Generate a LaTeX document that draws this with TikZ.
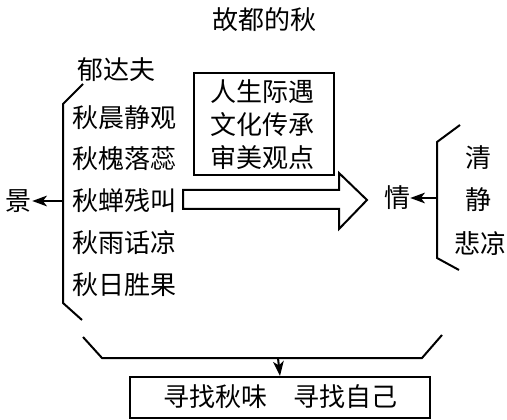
\documentclass[tikz,border=0pt]{standalone}
\usepackage{fontspec}
\setmainfont{Noto Sans CJK SC}
\usetikzlibrary{arrows.meta}
\begin{document}
\begin{tikzpicture}[x=0.75pt,y=-0.75pt,
  txt/.style={inner sep=0pt,font=\fontsize{19.5pt}{23pt}\selectfont},
  ln/.style={line width=1.5pt},
  arr/.style={line width=1.5pt,-{Stealth[length=11pt,width=8pt,inset=3pt]}},
  boxed/.style={draw,line width=1.5pt,inner sep=0pt}]
\useasboundingbox (0,0) rectangle (507,420);
\fill[white] (0,0) rectangle (507,420);
% title
\node[txt] (title) at (264,20) {故都的秋};
\node[txt] (author) at (116,70) {郁达夫};
% left column
\node[txt] (l1) at (124,118) {秋晨静观};
\node[txt] (l2) at (124,159) {秋槐落蕊};
\node[txt] (l3) at (124,201) {秋蝉残叫};
\node[txt] (l4) at (124,243) {秋雨话凉};
\node[txt] (l5) at (124,285) {秋日胜果};
% left bracket
\coordinate (lt) at (83,84);
\coordinate (ltv) at (63,104);
\coordinate (lbv) at (63,303);
\coordinate (lb) at (82,320);
\coordinate (lm) at (63,201);
\draw[ln] (lt) -- (ltv) -- (lbv) -- (lb);
\node[txt] (jing) at (19,201) {景};
\draw[arr] (lm) -- (jing.east);
% middle box
\node[boxed,minimum width=140*0.75pt,minimum height=102*0.75pt] (mbox) at (264,124) {};
\node[txt] (m1) at (262,92) {人生际遇};
\node[txt] (m2) at (262,125) {文化传承};
\node[txt] (m3) at (262,158) {审美观点};
% big arrow
\draw[ln,line join=miter] (183,190) -- (339,190) -- (339,173) -- (367,200) -- (339,229) -- (339,209) -- (183,209) -- cycle;
% right bracket
\coordinate (rt) at (460,125);
\coordinate (rtv) at (437,142);
\coordinate (rbv) at (437,258);
\coordinate (rb) at (459,270);
\coordinate (rm) at (437,198);
\draw[ln] (rt) -- (rtv) -- (rbv) -- (rb);
\node[txt] (qing) at (397,198) {情};
\draw[arr] (rm) -- (qing.east);
\node[txt] (r1) at (478,158) {清};
\node[txt] (r2) at (478,200) {静};
\node[txt] (r3) at (480,243) {悲凉};
% bottom bracket
\coordinate (bl) at (83,337);
\coordinate (blh) at (102,358);
\coordinate (brh) at (422,358);
\coordinate (br) at (442,335);
\coordinate (bm) at (278,358);
\draw[ln] (bl) -- (blh) -- (brh) -- (br);
\node[boxed,minimum width=300*0.75pt,minimum height=41*0.75pt] (bbox) at (280,397.5) {};
\node[txt] (btxt) at (280,397) {寻找秋味\hspace{1em}寻找自己};
\draw[arr] (bm) -- (bbox.north);
\end{tikzpicture}
\end{document}
